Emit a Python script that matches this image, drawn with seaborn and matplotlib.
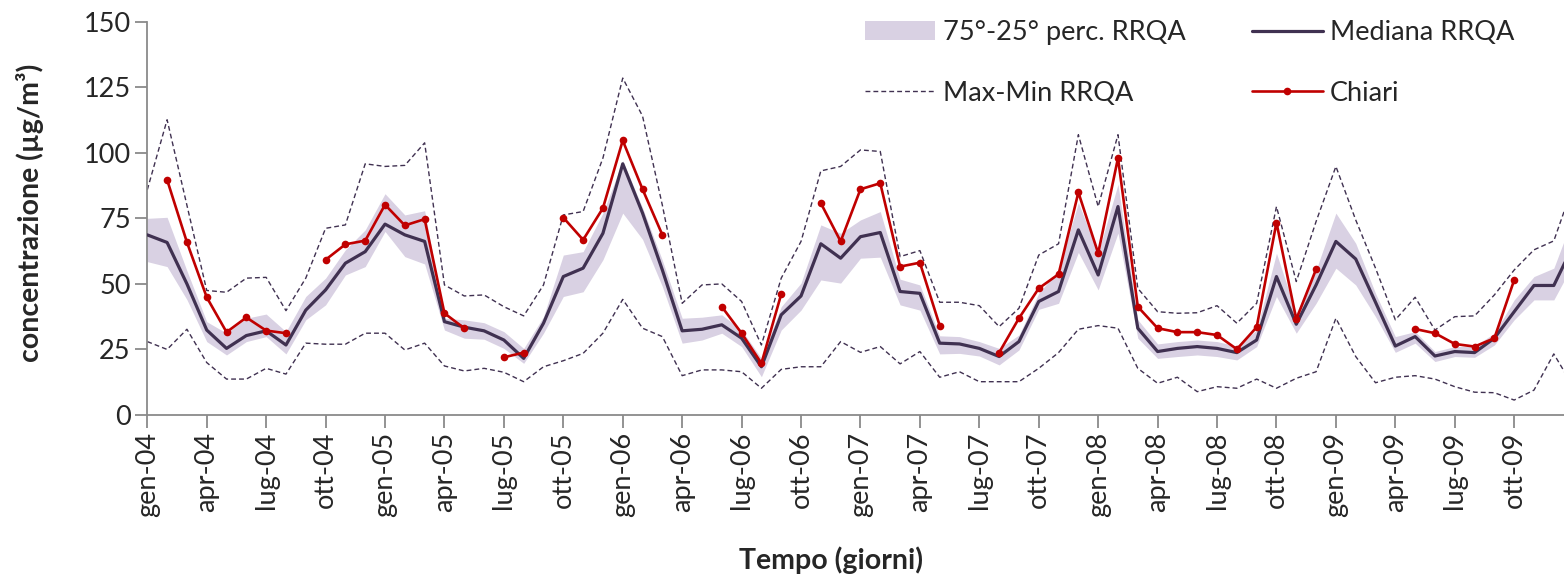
import numpy as np
import pandas as pd
import matplotlib
matplotlib.use("Agg")
import matplotlib.pyplot as plt
from matplotlib.lines import Line2D
from matplotlib.patches import Patch
import seaborn as sns

# Monthly PM10 statistics, January 2004 onwards (one value per month)
mediana = [68.7, 65.8, 50.0, 32.4, 25.4, 30.3, 32.1, 26.7, 40.0, 47.7, 57.9, 62.3,
           72.8, 68.7, 66.2, 35.6, 33.5, 32.1, 28.6, 21.6, 35.0, 52.8, 56.0, 69.3,
           95.8, 77.0, 55.3, 32.1, 32.7, 34.4, 29.3, 18.4, 38.2, 45.4, 65.3, 59.8,
           68.0, 69.6, 47.1, 46.4, 27.4, 27.1, 25.4, 22.3, 28.0, 43.3, 47.1, 70.6,
           53.4, 79.5, 33.1, 24.2, 25.4, 26.1, 25.4, 23.8, 28.6, 52.8, 34.6, 49.6,
           66.2, 59.5, 43.0, 26.3, 29.9, 22.5, 24.2, 23.8, 29.3, 39.4, 49.4, 49.4, 65.0]

perc75 = [75.0, 75.4, 55.0, 35.6, 31.2, 36.9, 38.5, 31.8, 45.2, 52.2, 63.0, 70.6,
          84.4, 76.3, 77.9, 36.9, 36.3, 35.2, 31.8, 25.4, 37.5, 61.0, 62.3, 77.0,
          97.0, 79.0, 59.0, 36.9, 37.3, 38.2, 32.4, 21.6, 41.3, 50.3, 72.5, 69.3,
          74.4, 77.6, 51.8, 49.6, 30.2, 29.9, 28.0, 25.4, 30.5, 46.4, 55.3, 81.0,
          61.7, 88.0, 36.3, 27.1, 28.0, 28.6, 28.0, 26.3, 32.4, 61.7, 38.8, 55.3,
          77.0, 65.5, 46.4, 29.9, 31.8, 24.2, 26.1, 26.3, 31.2, 43.9, 52.8, 56.0, 76.0]

perc25 = [58.5, 56.6, 44.0, 28.0, 22.9, 28.0, 29.9, 23.3, 36.3, 42.0, 53.4, 56.6,
          70.0, 60.4, 57.6, 32.4, 29.3, 28.9, 25.4, 19.7, 31.2, 45.2, 47.0, 59.2,
          77.0, 67.0, 49.0, 27.4, 28.6, 31.2, 26.1, 14.6, 32.4, 40.0, 51.5, 50.3,
          59.8, 60.2, 42.0, 40.0, 23.3, 23.5, 22.5, 19.1, 24.8, 40.3, 42.6, 62.0,
          47.7, 69.4, 29.3, 21.6, 22.3, 22.9, 22.3, 21.0, 26.1, 45.2, 31.2, 42.6,
          56.0, 49.6, 37.5, 23.9, 27.4, 20.4, 22.3, 22.0, 26.7, 36.3, 43.9, 43.9, 58.0]

massimo = [85.9, 112.6, 80.0, 47.5, 46.8, 52.2, 52.5, 39.8, 52.2, 71.2, 72.5, 95.8,
           94.8, 95.2, 103.8, 49.6, 45.4, 45.8, 41.3, 37.8, 49.6, 76.3, 77.6, 98.0,
           128.5, 114.0, 80.0, 42.6, 49.6, 50.0, 43.3, 26.7, 52.2, 66.2, 93.1, 94.8,
           101.1, 100.5, 60.4, 62.7, 43.0, 43.0, 41.7, 33.7, 40.7, 61.0, 65.3, 106.9,
           79.5, 106.9, 48.3, 39.4, 38.8, 39.0, 41.7, 35.0, 42.6, 79.5, 50.9, 73.8,
           94.8, 74.4, 56.0, 36.3, 44.9, 32.4, 37.5, 37.8, 45.8, 55.3, 63.0, 66.4, 88.0]

minimo = [28.0, 25.0, 32.7, 20.0, 13.7, 13.7, 17.8, 15.6, 27.4, 27.0, 27.0, 31.2,
          31.2, 24.8, 27.4, 18.7, 16.8, 17.8, 16.3, 12.7, 18.4, 20.7, 23.5, 31.2,
          44.1, 33.1, 29.9, 15.0, 17.2, 17.2, 16.5, 10.2, 17.4, 18.4, 18.4, 28.0,
          23.9, 26.1, 19.5, 24.2, 14.4, 16.5, 12.7, 12.7, 12.7, 17.8, 23.8, 32.7,
          34.1, 33.1, 17.8, 12.1, 14.4, 8.9, 10.8, 10.2, 13.7, 10.2, 14.0, 16.5,
          36.9, 22.3, 12.3, 14.4, 15.0, 13.7, 10.8, 8.7, 8.5, 5.7, 9.5, 23.3, 10.6]

nan = np.nan
chiari = [nan, 89.7, 65.9, 44.9, 31.6, 37.2, 32.2, 31.2, nan, 59.2, 65.1, 66.5,
          80.2, 72.3, 74.7, 38.8, 33.1, nan, 22.0, 23.8, nan, 75.3, 66.8, 78.9,
          104.7, 86.1, 68.7, nan, nan, 41.3, 31.2, 19.7, 46.1, nan, 80.8, 66.2,
          86.1, 88.4, 56.6, 58.1, 34.1, nan, nan, 23.8, 36.9, 48.3, 53.7, 84.9,
          61.7, 98.0, 41.3, 33.1, 31.6, 31.6, 30.5, 25.1, 33.5, 73.4, 36.5, 55.6,
          nan, nan, nan, nan, 32.8, 31.2, 27.1, 26.1, 29.3, 51.5, nan, nan, nan]

etichette_x = ["gen-04", "apr-04", "lug-04", "ott-04", "gen-05", "apr-05", "lug-05", "ott-05",
               "gen-06", "apr-06", "lug-06", "ott-06", "gen-07", "apr-07", "lug-07", "ott-07",
               "gen-08", "apr-08", "lug-08", "ott-08", "gen-09", "apr-09", "lug-09", "ott-09"]
valori_y = [0, 25, 50, 75, 100, 125, 150]

# ---- styling ----
COL_BAND = "#D9D1E3"
COL_MED = "#403151"
COL_RED = "#C00000"
COL_AXIS = "#8A8A8A"
FS = 19.5
FS_LAB = 20.5

sns.set_style("white")
plt.rcParams["font.family"] = ["Lato", "DejaVu Sans"]

mese = np.arange(len(mediana))
df = pd.DataFrame({"mese": mese, "mediana": mediana, "p75": perc75, "p25": perc25,
                   "max": massimo, "min": minimo, "chiari": chiari})

# separate runs of the Chiari series so gaps stay open
tratto = df["chiari"].isna().cumsum()
df_chiari = df.assign(tratto=tratto).dropna(subset=["chiari"])

W, H = 1564, 576
fig = plt.figure(figsize=(W / 100, H / 100), dpi=100)
x0, y0, pw, ph = 147.3, 415.0, W - 147.3, 393.3
ax = fig.add_axes([x0 / W, 1 - y0 / H, pw / W, ph / H])

ax.fill_between(df["mese"], df["p25"], df["p75"], color=COL_BAND, linewidth=0, zorder=1)
dash = (0, (3.5, 2.2))
sns.lineplot(data=df, x="mese", y="max", ax=ax, color=COL_MED, lw=1.0,
             linestyle=dash, legend=False, zorder=2)
sns.lineplot(data=df, x="mese", y="min", ax=ax, color=COL_MED, lw=1.0,
             linestyle=dash, legend=False, zorder=2)
sns.lineplot(data=df, x="mese", y="mediana", ax=ax, color=COL_MED, lw=2.3,
             legend=False, zorder=3)
sns.lineplot(data=df_chiari, x="mese", y="chiari", units="tratto", estimator=None,
             ax=ax, color=COL_RED, lw=1.9, marker="o", markersize=5.5,
             markeredgewidth=0, legend=False, zorder=4)

ax.set_xlim(0, pw / 19.81)
ax.set_ylim(0, 150)
ax.set_xticks(np.arange(0, 72, 3))
ax.set_xticklabels(etichette_x, rotation=90, fontsize=FS)
ax.set_yticks(valori_y)
ax.set_yticklabels([str(v) for v in valori_y], fontsize=FS)
ax.tick_params(axis="both", direction="out", length=9, width=1.3, color=COL_AXIS,
               bottom=True, left=True, pad=3)
for s in ["top", "right"]:
    ax.spines[s].set_visible(False)
for s in ["left", "bottom"]:
    ax.spines[s].set_color(COL_AXIS)
    ax.spines[s].set_linewidth(1.3)
ax.grid(False)

ax.set_xlabel("Tempo (giorni)", fontsize=FS_LAB, fontweight="bold")
ax.set_ylabel("concentrazione (µg/m³)", fontsize=FS_LAB, fontweight="bold")
ax.xaxis.set_label_coords((831 - x0) / pw, (y0 - 546) / ph)
ax.yaxis.set_label_coords((44 - x0) / pw, 0.515)

handles = [Patch(facecolor=COL_BAND, edgecolor="none"),
           Line2D([], [], color=COL_MED, lw=1.0, linestyle=dash),
           Line2D([], [], color=COL_MED, lw=2.3),
           Line2D([], [], color=COL_RED, lw=1.9, marker="o", markersize=5.5, markeredgewidth=0)]
labels = ["75°-25° perc. RRQA", "Max-Min RRQA", "Mediana RRQA", "Chiari"]
fig.legend(handles, labels, ncol=2, loc="upper left", bbox_to_anchor=(865 / W, 1 - 20 / H),
           frameon=False, fontsize=FS, handlelength=2.6, handletextpad=0.28,
           columnspacing=2.45, labelspacing=1.32, borderpad=0, borderaxespad=0)

fig.savefig("out.png", dpi=100)
